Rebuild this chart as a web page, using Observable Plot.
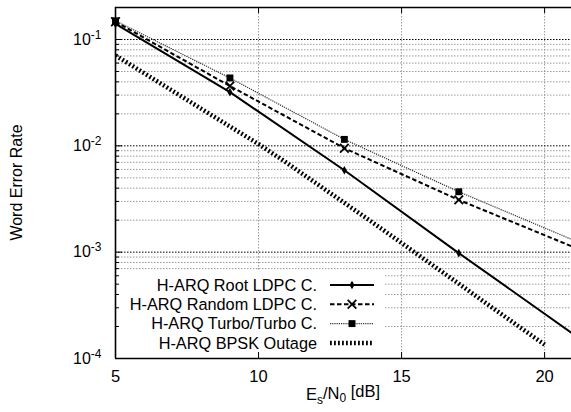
<!DOCTYPE html>
<html><head><meta charset="utf-8">
<script src="https://cdn.jsdelivr.net/npm/d3@7"></script>
<script src="https://cdn.jsdelivr.net/npm/@observablehq/plot@0.6"></script>
<style>
html,body{margin:0;padding:0;background:#fff;}
#chart svg{display:block;}
</style></head><body><div id="chart"></div>
<script>
// ---- data ----
const snr = [5, 9, 13, 17, 21];
const rootLDPC = [0.140, 0.0320, 0.0059, 0.00098, 0.00017];
const randomLDPC = [0.147, 0.0365, 0.0095, 0.0031, 0.00112];
const turboTurbo = [0.150, 0.0435, 0.0115, 0.0037, 0.0013];
const outageSnr = [5, 6, 7, 8, 9, 10, 11, 12, 13, 14, 15, 16, 17, 18, 19, 20];
const bpskOutage = [0.0708, 0.0482, 0.0328, 0.0223, 0.0152, 0.0104, 0.00687, 0.00447,
  0.00291, 0.00189, 0.00122, 0.000783, 0.000505, 0.000324, 0.000209, 0.000135];
const seriesNames = ["H-ARQ Root LDPC C.", "H-ARQ Random LDPC C.", "H-ARQ Turbo/Turbo C.", "H-ARQ BPSK Outage"];
const xTicks = [5, 10, 15, 20];
const xGrid = [10, 15, 20];
const yMajor = [1e-4, 1e-3, 1e-2, 1e-1];
const yMinor = [];
for (const e of [-4, -3, -2, -1]) for (let k = 2; k <= 9; k++) { const v = k * Math.pow(10, e); if (v <= 0.2) yMinor.push(+v.toPrecision(3)); }

// ---- layout ----
const W = 571, H = 412, mL = 115, mR = 0, mT = 7, mB = 54;
const plotW = W - mL - mR, plotH = H - mT - mB;
const xDomain = [5, 20.94], yDomain = [1e-4, 0.2];
const FONT = "'Liberation Sans', Arial, Helvetica, sans-serif";

const rows = (xs, ys) => xs.map((x, i) => ({x, y: ys[i]}));
const dRoot = rows(snr, rootLDPC), dRand = rows(snr, randomLDPC), dTurbo = rows(snr, turboTurbo), dOut = rows(outageSnr, bpskOutage);
const inDom = d => d.x <= xDomain[1];

const styles = [
  {stroke: "#000", strokeWidth: 2, strokeDasharray: null, symbol: "diamond", r: 2.6, fill: "#000", mstroke: "none"},
  {stroke: "#000", strokeWidth: 2, strokeDasharray: "4.5,2.5", symbol: "times", r: 4, fill: "none", mstroke: "#000"},
  {stroke: "#333", strokeWidth: 1.2, strokeDasharray: "1.2,1", symbol: "square", r: 3.9, fill: "#000", mstroke: "none"},
  {stroke: "#000", strokeWidth: 4.5, strokeDasharray: "1.8,2.2", symbol: null}
];

function legendMark() {
  const g = d3.create("svg:g");
  g.append("rect").attr("x", mL + 1).attr("y", 271).attr("width", 384 - mL - 1).attr("height", 357 - 271).attr("fill", "#fff");
  const ys = [285, 304.3, 323.6, 343];
  const sym = {diamond: d3.symbolDiamond, times: d3.symbolTimes, square: d3.symbolSquare};
  seriesNames.forEach((name, i) => {
    const s = styles[i], y = ys[i];
    g.append("text").attr("x", 317).attr("y", y).attr("dy", "0.35em").attr("text-anchor", "end")
      .attr("font-family", FONT).attr("font-size", 16.3).attr("fill", "#000").text(name);
    g.append("line").attr("x1", 330).attr("x2", 374).attr("y1", y).attr("y2", y)
      .attr("stroke", s.stroke).attr("stroke-width", s.strokeWidth)
      .attr("stroke-linecap", "butt")
      .attr("stroke-dasharray", s.strokeDasharray);
    if (s.symbol) {
      g.append("path").attr("transform", `translate(352,${y})`)
        .attr("d", d3.symbol(sym[s.symbol], s.r * s.r * Math.PI)())
        .attr("fill", s.fill).attr("stroke", s.mstroke).attr("stroke-width", 1.8);
    }
  });
  return g.node();
}

const lineOf = (data, s) => Plot.line(data, {x: "x", y: "y", stroke: s.stroke, strokeWidth: s.strokeWidth,
  strokeDasharray: s.strokeDasharray, strokeLinecap: "butt", strokeLinejoin: "miter", clip: true});
const dotOf = (data, s) => Plot.dot(data.filter(inDom), {x: "x", y: "y", symbol: s.symbol, r: s.r, fill: s.fill, stroke: s.mstroke, strokeWidth: 1.8});

const chart = Plot.plot({
  width: W, height: H,
  marginLeft: mL, marginRight: mR, marginTop: mT, marginBottom: mB,
  style: {fontFamily: FONT, fontSize: "16px", background: "#fff", color: "#000"},
  x: {type: "linear", domain: xDomain},
  y: {type: "log", domain: yDomain},
  marks: [
    Plot.ruleY(yMinor, {stroke: "#999", strokeWidth: 1, strokeDasharray: "1.5,1.5"}),
    Plot.ruleX(xGrid, {stroke: "#999", strokeWidth: 1, strokeDasharray: "1.5,1.5"}),
    Plot.ruleY(yMajor.slice(1), {stroke: "#000", strokeWidth: 1, strokeDasharray: "1.5,1.5"}),
    legendMark,
    lineOf(dOut, styles[3]),
    lineOf(dTurbo, styles[2]),
    lineOf(dRand, styles[1]),
    lineOf(dRoot, styles[0]),
    dotOf(dTurbo, styles[2]),
    dotOf(dRand, styles[1]),
    dotOf(dRoot, styles[0]),
    Plot.tickY(yMajor, {y: d => d, insetRight: plotW - 7, stroke: "#000", strokeWidth: 1}),
    Plot.tickY(yMinor, {y: d => d, insetRight: plotW - 4, stroke: "#000", strokeWidth: 1}),
    Plot.tickX(xGrid, {x: d => d, insetTop: plotH - 6, stroke: "#000", strokeWidth: 1}),
    Plot.tickX(xGrid, {x: d => d, insetBottom: plotH - 6, stroke: "#000", strokeWidth: 1}),
    Plot.ruleY([yDomain[0], yDomain[1]], {stroke: "#000", strokeWidth: 1.6}),
    Plot.ruleX([xDomain[0]], {stroke: "#000", strokeWidth: 1.6}),
    Plot.axisY(yMajor, {tickSize: 0, tickPadding: 14, tickFormat: d => String(Math.round(Math.log10(d))), label: null, fontSize: 16}),
    Plot.axisX(xTicks, {tickSize: 0, tickPadding: 12, tickFormat: d => String(d), label: null, fontSize: 16.5})
  ]
});

const svg = d3.select(chart);
// superscript exponents on y tick labels
svg.selectAll('g[aria-label="y-axis tick label"] text').each(function() {
  const t = d3.select(this), e = this.textContent.replace("\u2212", "-");
  t.text(null);
  t.append("tspan").text("10");
  t.append("tspan").attr("dy", "-0.5em").attr("font-size", 12).text(e);
});
// axis titles
const xl = svg.append("text").attr("x", mL + plotW / 2).attr("y", 400).attr("text-anchor", "middle")
  .attr("font-family", FONT).attr("font-size", 16.5).attr("fill", "#000");
xl.append("tspan").text("E");
xl.append("tspan").attr("dy", "0.3em").attr("font-size", 12).text("s");
xl.append("tspan").attr("dy", "-0.3em").text("/N");
xl.append("tspan").attr("dy", "0.3em").attr("font-size", 12).text("0");
xl.append("tspan").attr("dy", "-0.3em").text(" [dB]");
svg.append("text").attr("transform", `translate(22,${mT + plotH / 2}) rotate(-90)`).attr("text-anchor", "middle")
  .attr("font-family", FONT).attr("font-size", 16).attr("fill", "#000").text("Word Error Rate");

document.getElementById("chart").appendChild(chart);
</script></body></html>
